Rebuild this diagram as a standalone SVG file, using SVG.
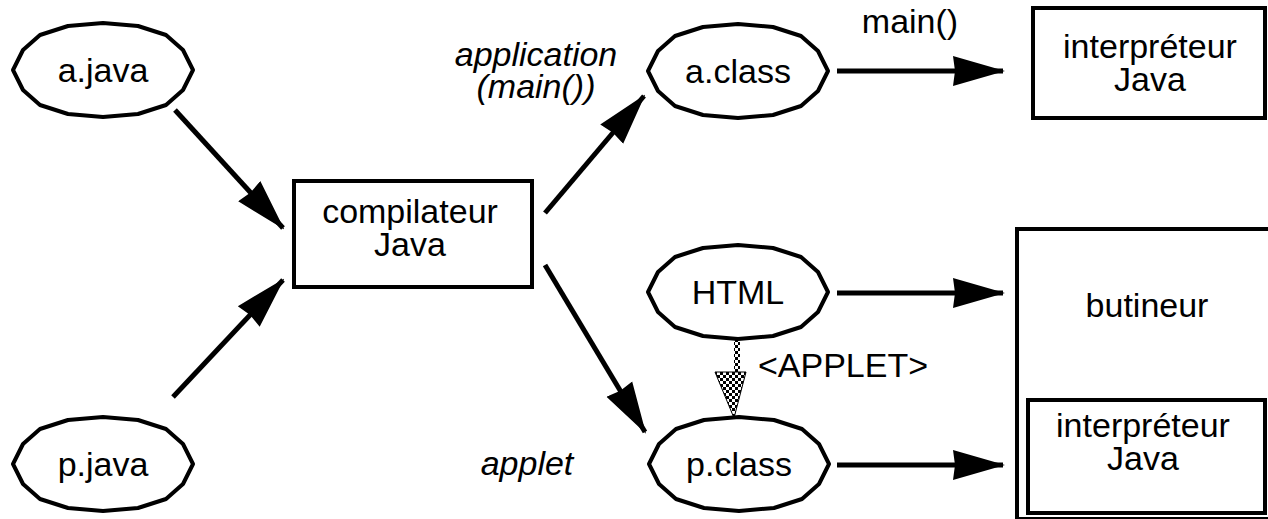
<svg xmlns="http://www.w3.org/2000/svg" width="1268" height="519" viewBox="0 0 1268 519">
<style>
text{font-family:"Liberation Sans",Arial,sans-serif;font-size:34px;fill:#000;text-anchor:middle}
.it{font-style:italic}
.oval{fill:#fff;stroke:#000;stroke-width:4;stroke-linejoin:round}
.box{fill:#fff;stroke:#000;stroke-width:4}
.conn{stroke:#000;stroke-width:5;fill:none;marker-end:url(#ah)}
</style>
<defs>
<path id="ov" d="M-90,0 L-80,-20 L-63,-35 L-35,-44 L0,-47 L35,-44 L63,-35 L80,-20 L90,0 L80,20 L63,35 L35,44 L0,47 L-35,44 L-63,35 L-80,20 Z"/>
<marker id="ah" markerUnits="userSpaceOnUse" viewBox="0 0 52 32" refX="50" refY="16" markerWidth="52" markerHeight="32" orient="auto">
<path d="M0,1 L52,16 L0,31 L2,16 Z" fill="#000"/>
</marker>
<pattern id="chk" patternUnits="userSpaceOnUse" width="6" height="6">
<rect width="6" height="6" fill="#fff"/>
<rect width="3" height="3" fill="#000"/>
<rect x="3" y="3" width="3" height="3" fill="#000"/>
</pattern>
</defs>

<g id="connectors">
<line class="conn" x1="175" y1="110" x2="283" y2="228"/>
<line class="conn" x1="173" y1="397" x2="283" y2="280"/>
<line class="conn" x1="545" y1="213" x2="644" y2="96"/>
<line class="conn" x1="545" y1="265" x2="645" y2="432"/>
<line class="conn" x1="837" y1="71" x2="1003" y2="71"/>
<line class="conn" x1="837" y1="293" x2="1003" y2="293"/>
<line class="conn" x1="837" y1="465" x2="1003" y2="465"/>
<g id="applet-link">
<rect x="734" y="338" width="6" height="36" fill="url(#chk)"/>
<polygon points="715,372 746,372 734,418" fill="url(#chk)" stroke="#000" stroke-width="1"/>
</g>
</g>

<g id="labels">
<text x="910" y="33">main()</text>
<text class="it" x="536" y="66">application</text>
<text class="it" x="536" y="98">(main())</text>
<text class="it" x="527" y="475">applet</text>
<text x="843" y="377">&lt;APPLET&gt;</text>
</g>

<g id="a-java"><use href="#ov" class="oval" x="103" y="70"/><text x="103" y="82">a.java</text></g>
<g id="p-java"><use href="#ov" class="oval" x="103" y="464"/><text x="103" y="476">p.java</text></g>
<g id="compilateur"><rect class="box" x="294" y="181" width="238" height="106"/><text x="410" y="223">compilateur</text><text x="410" y="256">Java</text></g>
<g id="a-class"><use href="#ov" class="oval" x="738" y="71"/><text x="738" y="83">a.class</text></g>
<g id="html"><use href="#ov" class="oval" x="738" y="292"/><text x="738" y="304">HTML</text></g>
<g id="p-class"><use href="#ov" class="oval" x="739" y="464"/><text x="739" y="476">p.class</text></g>
<g id="interpreteur1"><rect class="box" x="1033" y="8" width="232" height="110"/><text x="1150" y="58">interpréteur</text><text x="1150" y="91">Java</text></g>
<g id="butineur"><rect class="box" x="1017" y="229" width="256" height="290"/><text x="1147" y="317">butineur</text>
<g id="interpreteur2"><rect class="box" x="1028" y="400" width="237" height="113"/><text x="1143" y="437">interpréteur</text><text x="1143" y="470">Java</text></g></g>
</svg>
